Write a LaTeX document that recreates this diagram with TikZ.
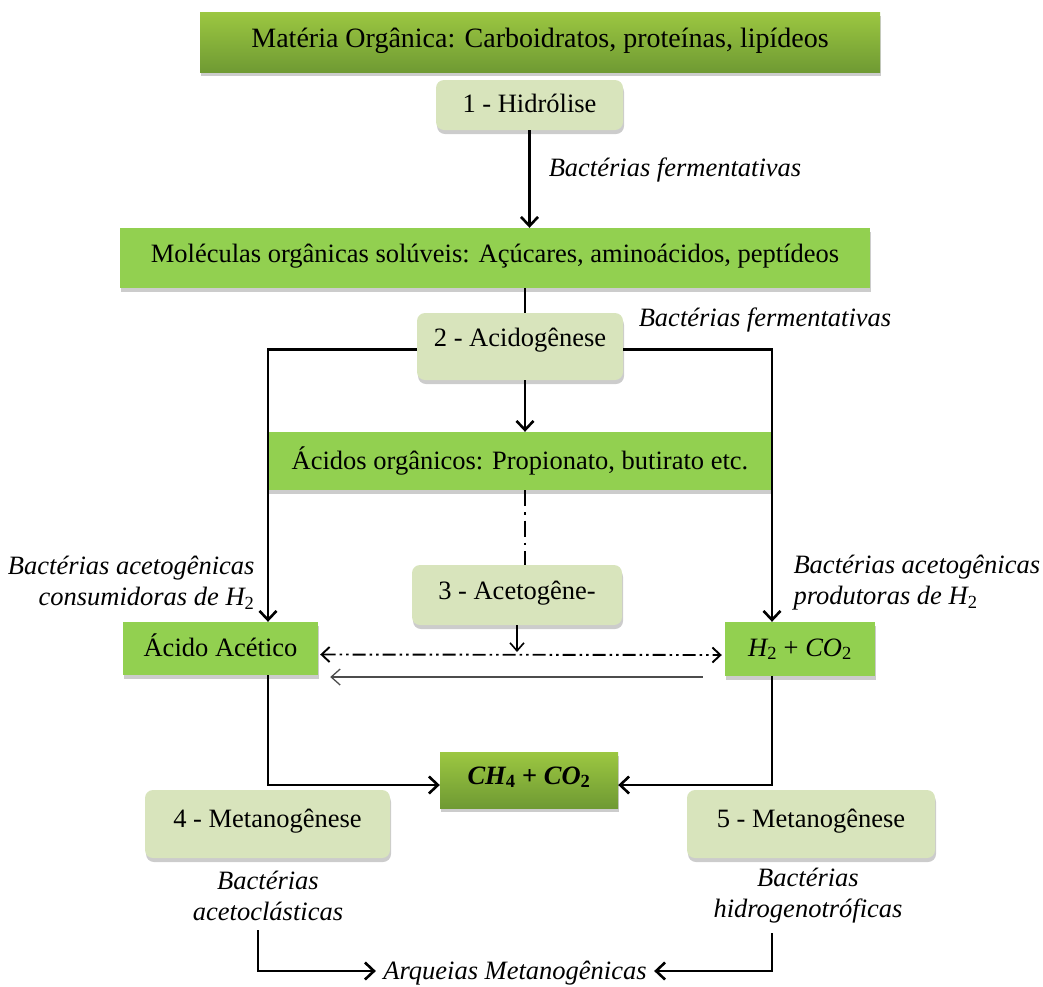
\documentclass[tikz,border=0pt]{standalone}
\usepackage{fontspec}
\setmainfont{Liberation Serif}
\usetikzlibrary{arrows.meta,shadows}
\definecolor{grn}{HTML}{92D050}
\definecolor{lgt}{HTML}{D8E4BC}
\definecolor{gtop}{HTML}{9CC741}
\definecolor{gbot}{HTML}{6F9A33}
\newcommand{\sub}[1]{\textsubscript{\upshape #1}}
\begin{document}
\begin{tikzpicture}[x=1pt,y=-1pt,
 box/.style={inner sep=0pt, text height=19pt, text depth=5pt, font=\fontsize{26.5}{30}\selectfont,
   drop shadow={shadow xshift=1pt,shadow yshift=-4pt,fill=black!40}},
 flat/.style={box, fill=grn},
 grad/.style={box, top color=gtop, bottom color=gbot},
 stage/.style={box, fill=lgt, rounded corners=8pt},
 lbl/.style={font=\fontsize{26.5}{31}\selectfont\itshape},
 ln/.style={line width=2.8pt},
 arr/.style={ln, -{Straight Barb[length=9pt,width=17pt,line width=2.6pt]}},
 dbl/.style={line width=1.9pt, dash pattern=on 13pt off 4pt on 2.5pt off 4pt on 2.5pt off 4pt,
   {Straight Barb[length=8pt,width=15pt,line width=1.9pt]}-{Straight Barb[length=8pt,width=15pt,line width=1.9pt]}},
]
\useasboundingbox (0,0) rectangle (1043,986);

% boxes
\node[grad, minimum width=680pt, minimum height=60pt, text depth=9pt, font=\fontsize{28}{32}\selectfont] (mat) at (540,42) {Matéria Orgânica: Carboidratos, proteínas, lipídeos};
\node[stage, minimum width=187pt, minimum height=50pt] (hid) at (529.5,105) {1 - Hidrólise};
\node[flat, minimum width=750pt, minimum height=60pt, text depth=11pt] (mol) at (495,258) {Moléculas orgânicas solúveis: Açúcares, aminoácidos, peptídeos};
\node[stage, minimum width=206pt, minimum height=67pt, text depth=20pt] (acid) at (520,346.5) {2 - Acidogênese};
\node[flat, minimum width=504pt, minimum height=58pt, text depth=3pt] (acids) at (520,461) {Ácidos orgânicos: Propionato, butirato etc.};
\node[stage, minimum width=210pt, minimum height=60pt, text depth=11pt] (ace) at (517,595) {3 - Acetogêne-};
\node[flat, minimum width=195pt, minimum height=53pt, text depth=3pt] (aa) at (220.5,648.5) {Ácido Acético};
\node[flat, minimum width=150pt, minimum height=54pt] (h2) at (800,649) {\itshape H\sub{2} \upshape+ \itshape CO\sub{2}};
\node[grad, minimum width=178pt, minimum height=56pt, text depth=11pt] (ch4) at (529,780) {\bfseries\itshape CH\sub{4} \upshape+ \itshape CO\sub{2}};
\node[stage, minimum width=245pt, minimum height=68pt, text depth=13pt] (m4) at (267.5,824) {4 - Metanogênese};
\node[stage, minimum width=248pt, minimum height=68pt, text depth=13pt] (m5) at (811,824) {5 - Metanogênese};

% labels
\node[lbl] (bf1) at (675,170) {Bactérias fermentativas};
\node[lbl] (bf2) at (765,320) {Bactérias fermentativas};
\node[lbl, align=right, anchor=east] (bcons) at (258,583) {Bactérias acetogênicas\\consumidoras de H\sub{2}};
\node[lbl, align=left, anchor=west] (bprod) at (790,583) {Bactérias acetogênicas\\produtoras de H\sub{2}};
\node[lbl, align=center] (bl) at (268,896) {Bactérias\\acetoclásticas};
\node[lbl, align=center] (br) at (808,896) {Bactérias\\hidrogenotróficas};
\node[lbl] (arq) at (515,973) {Arqueias Metanogênicas};

% connectors
\draw[arr] (hid.south) -- (hid.south |- mol.north);
\draw[ln] ([xshift=5pt]acid.north |- mol.south) -- ([xshift=5pt]acid.north);
\draw[arr] ([yshift=-3pt]acid.west) -| ([xshift=47.5pt]aa.north);
\draw[arr] ([yshift=-3pt]acid.east) -| ([xshift=-28pt]h2.north);
\draw[arr] ([xshift=5pt]acid.south) -- ([xshift=5pt]acid.south |- acids.north);
\draw[line width=1.8pt, dash pattern=on 16pt off 6pt on 2.5pt off 6pt] ([xshift=5pt]acids.south) -- ([xshift=5pt]acids.south |- ace.north);
\coordinate (mid) at (517,652);
\draw[line width=1.6pt, -{Straight Barb[length=8pt,width=14pt,line width=1.6pt]}] (ace.south) -- (mid);
\draw[dbl] ([xshift=2pt,yshift=-6pt]aa.east) -- ([xshift=-3pt,yshift=-6pt]h2.west);
\draw[black!70, line width=1.3pt, -{Straight Barb[length=9pt,width=16pt,line width=1.3pt]}] ([xshift=-22pt,yshift=-28pt]h2.west) -- ([xshift=12pt,yshift=-28.5pt]aa.east);
\draw[arr] ([xshift=47.5pt]aa.south) |- ([yshift=-5pt]ch4.west);
\draw[arr] ([xshift=-28pt]h2.south) |- ([yshift=-5pt]ch4.east);
\draw[arr] ([xshift=-10pt,yshift=-6pt]bl.south) |- ([xshift=-4pt,yshift=2pt]arq.west);
\draw[arr] ([xshift=-36pt,yshift=-6pt]br.south) |- ([xshift=4pt,yshift=2pt]arq.east);
\end{tikzpicture}
\end{document}
